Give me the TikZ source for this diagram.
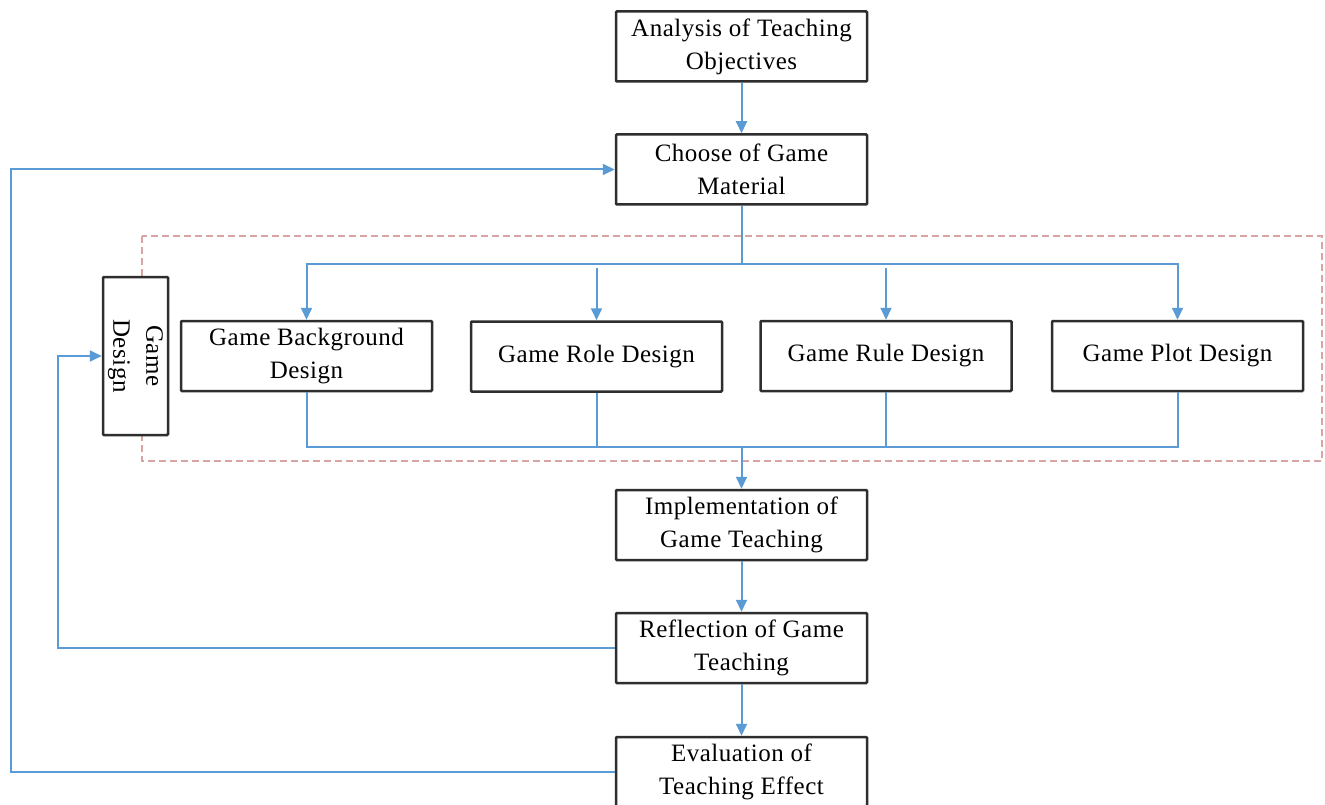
\documentclass[tikz,border=0pt]{standalone}
\usepackage{fontspec}
\setmainfont{Liberation Serif}[LetterSpace=2]
\usetikzlibrary{arrows.meta}
\definecolor{flow}{HTML}{5B9BD5}
\definecolor{boxline}{HTML}{2E2E2E}
\definecolor{dashc}{HTML}{D8A4A4}
\begin{document}
\begin{tikzpicture}[x=1pt,y=-1pt,
  box/.style={draw=boxline, line width=2.5pt, rounded corners=1pt, fill=white,
    minimum width=251pt, minimum height=70pt, align=center, inner sep=0pt,
    font=\fontsize{25}{33}\selectfont},
  flowline/.style={draw=flow, line width=2pt},
  arr/.style={flowline, -{Triangle[length=12pt,width=11pt]}},
  dashframe/.style={draw=dashc, line width=1.6pt, dash pattern=on 7pt off 4pt}
]
\useasboundingbox (0,0) rectangle (1325,805);
\fill[white] (0,0) rectangle (1325,805);

% dashed group frame
\draw[dashframe] (142,236) rectangle (1322,461);

% nodes
\node[box] (ana) at (741.5,46.5) {Analysis of Teaching\\Objectives};
\node[box] (choose) at (741.5,169.5) {Choose of Game\\Material};
\node[box] (bg) at (306.5,356) {Game Background\\Design};
\node[box] (role) at (596.5,356.5) {Game Role Design};
\node[box] (rule) at (886,356) {Game Rule Design};
\node[box] (plot) at (1177.5,356) {Game Plot Design};
\node[box, minimum width=158pt, minimum height=65pt, rotate=-90] (gd) at (135.5,356) {Game\\Design};
\node[box] (impl) at (741.5,525) {Implementation of\\Game Teaching};
\node[box] (refl) at (741.5,648) {Reflection of Game\\Teaching};
\node[box] (eval) at (741.5,772) {Evaluation of\\Teaching Effect};

% helper coordinates
\coordinate (top) at (741.5,264);
\coordinate (bot) at (741.5,447);
\coordinate (lo) at (11,0);
\coordinate (li) at (58,0);

% main flow
\draw[arr] (ana) -- (choose);
\draw[flowline] (choose.south) -- (top);
\draw[arr] (top) -| (bg.north);
\draw[arr] (top) -| (plot.north);
\draw[arr] ([yshift=-4pt]role.north |- top) -- (role.north);
\draw[arr] ([yshift=-4pt]rule.north |- top) -- (rule.north);

\draw[flowline] (bg.south) |- (bot);
\draw[flowline] (plot.south) |- (bot);
\draw[flowline] (role.south) -- (role.south |- bot);
\draw[flowline] (rule.south) -- (rule.south |- bot);
\draw[arr] (bot) -- (impl.north);

\draw[arr] (impl) -- (refl);
\draw[arr] (refl) -- (eval);

% feedback loops
\draw[arr] (refl.west) -- (refl.west -| li) -- (li |- gd.south) -- (gd.south);
\draw[arr] (eval.west) -- (eval.west -| lo) -- (lo |- choose.west) -- (choose.west);
\end{tikzpicture}
\end{document}
